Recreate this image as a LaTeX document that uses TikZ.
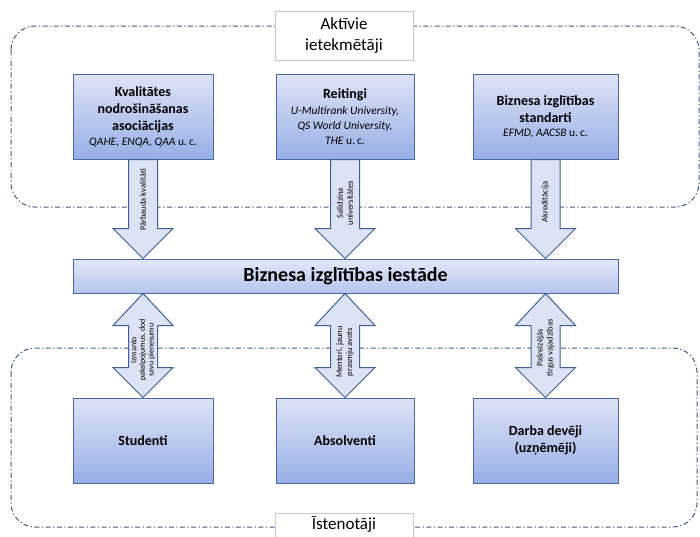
\documentclass[tikz,border=0pt]{standalone}
\usepackage{fontspec}
\setmainfont{Carlito}
\usetikzlibrary{calc}
\definecolor{boxtop}{HTML}{DEE4F6}
\definecolor{boxbot}{HTML}{98AEE6}
\definecolor{bartop}{HTML}{E2E8F8}
\definecolor{barbot}{HTML}{B6C5EF}
\definecolor{boxline}{HTML}{4868A8}
\definecolor{arrfill}{HTML}{DCE3F4}
\definecolor{arrline}{HTML}{3F5F9C}
\definecolor{dashc}{HTML}{3E5A8C}
\definecolor{lblline}{HTML}{C8C8C8}
\newcommand\subline[1]{{\mdseries\fontsize{11.5}{14.5}\selectfont #1}}
\begin{document}
\begin{tikzpicture}[x=1pt,y=-1pt,
  region/.style={draw=dashc, line width=1pt, rounded corners=24pt,
    dash pattern=on 5pt off 2.5pt on 1.2pt off 2.5pt},
  lblbox/.style={draw=lblline, fill=white, line width=0.6pt, minimum width=138pt,
    align=center, inner sep=0pt, font=\fontsize{17}{21}\selectfont},
  lbltext/.style={inner sep=0pt, font=\fontsize{17}{21}\selectfont},
  topbox/.style={draw=boxline, line width=1pt, top color=boxtop, bottom color=boxbot,
    minimum height=85pt, align=center, inner sep=2pt, font=\fontsize{14}{17}\selectfont\bfseries},
  botbox/.style={topbox, minimum width=140pt},
  blockarrow/.style={draw=arrline, fill=arrfill, line width=1pt, line join=miter},
  arrtxt/.style={rotate=90, align=center, inner sep=0pt, font=\fontsize{8.5}{10}\selectfont},
  arrtxtsm/.style={rotate=90, align=center, inner sep=0pt, font=\fontsize{8}{8.6}\selectfont}
]
\path[clip] (0,0) rectangle (700,536);
\fill[white] (0,0) rectangle (700,536);

% regions
\draw[region] (11,26) rectangle (699,207);
\draw[region] (11,348) rectangle (697,527);
\node[lblbox, minimum height=49pt] (lt) at (344,35.5) {Aktīvie\\ietekmētāji};
\node[lblbox, minimum height=32pt] (lb) at (344,529) {};
\node[lbltext] (lbt) at (344,524) {Īstenotāji};

% top boxes
\node[topbox, minimum width=140pt] (b1) at (143,116.5)
  {Kvalitātes\\nodrošināšanas\\asociācijas\\[-2pt]\subline{\textit{QAHE, ENQA, QAA} u.\,c.}};
\node[topbox, minimum width=138pt] (b2) at (345,116.5)
  {Reitingi\\[-1pt]\subline{\textit{U-Multirank University,}}\\[-2pt]\subline{\textit{QS World University,}}\\[-2pt]\subline{\textit{THE} u.\,c.}};
\node[topbox, minimum width=145pt] (b3) at (545.5,116.5)
  {Biznesa izglītības\\standarti\\[-3pt]\subline{\textit{EFMD, AACSB} u.\,c.}};

% middle bar
\node[draw=boxline, line width=1pt, top color=bartop, bottom color=barbot,
  minimum width=545pt, minimum height=34pt, inner sep=0pt,
  font=\fontsize{20}{24}\selectfont\bfseries] (bar) at (345.5,276) {Biznesa izglītības iestāde};

% bottom boxes
\node[botbox] (s1) at (143,440.5) {Studenti};
\node[botbox, minimum width=138pt] (s2) at (345,440.5) {Absolventi};
\node[botbox, minimum width=145pt] (s3) at (545.5,440.5) {Darba devēji\\(uzņēmēji)};

% down arrows
\foreach \bx in {b1,b2,b3}{
  \draw[blockarrow] let \p1=(\bx.south), \p2=(bar.north) in
    (\x1-14.5pt,\y1) -- (\x1-14.5pt,\y2+30pt) -- (\x1-30pt,\y2+30pt) -- (\x1,\y2)
    -- (\x1+30pt,\y2+30pt) -- (\x1+14.5pt,\y2+30pt) -- (\x1+14.5pt,\y1) -- cycle;
}
% double arrows
\foreach \bx in {s1,s2,s3}{
  \draw[blockarrow] let \p1=(\bx.north), \p2=(bar.south) in
    (\x1,\y2) -- (\x1+30pt,\y2-32pt) -- (\x1+14.5pt,\y2-32pt) -- (\x1+14.5pt,\y1+30pt)
    -- (\x1+30pt,\y1+30pt) -- (\x1,\y1) -- (\x1-30pt,\y1+30pt) -- (\x1-14.5pt,\y1+30pt)
    -- (\x1-14.5pt,\y2-32pt) -- (\x1-30pt,\y2-32pt) -- cycle;
}

% arrow labels
\node[arrtxt] (t1) at (143,200) {Pārbauda kvalitāti};
\node[arrtxt] (t2) at (345,203) {Salīdzina\\universitātes};
\node[arrtxt] (t3) at (545.5,202) {Akreditācija};
\node[arrtxtsm] (u1) at (143,350) {Izmanto\\pakalpojumus, dod\\savu pienesumu};
\node[arrtxt] (u2) at (345,352) {Mentori, jaunu\\prasmju avots};
\node[arrtxt] (u3) at (545.5,348) {Pašreizējās\\tirgus vajadzības};
\end{tikzpicture}
\end{document}
